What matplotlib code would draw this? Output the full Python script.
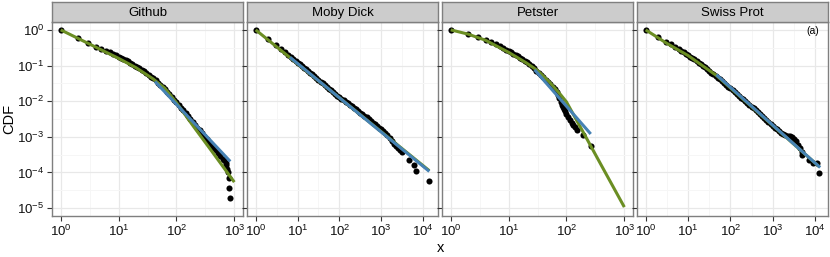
import numpy as np
import matplotlib
matplotlib.use("Agg")
import matplotlib.pyplot as plt
from matplotlib.ticker import FixedLocator, LogFormatterSciNotation, NullFormatter

plt.rcParams['font.family'] = ['Liberation Sans', 'DejaVu Sans']
plt.rcParams['mathtext.fontset'] = 'custom'
plt.rcParams['mathtext.rm'] = 'Liberation Sans'

# values, as log10 exponents
panels = ['Github', 'Moby Dick', 'Petster', 'Swiss Prot']

github_dots_lx = [0, .301, .477, .602, .699, .778, .845, .903, .954,
                  1.00, 1.04, 1.08, 1.12, 1.16, 1.20, 1.24, 1.28, 1.32, 1.36, 1.40,
                  1.44, 1.48, 1.52, 1.56, 1.60, 1.64, 1.68, 1.72, 1.76, 1.80, 1.84,
                  1.88, 1.92, 1.96, 2.00, 2.04, 2.08, 2.12, 2.16, 2.20, 2.24, 2.28,
                  2.32, 2.36, 2.40, 2.44, 2.48, 2.52, 2.56, 2.60, 2.64, 2.68, 2.72,
                  2.76, 2.80, 2.83, 2.85, 2.86, 2.88, 2.89, 2.90, 2.91, 2.93]
github_dots_ly = [0, -0.23, -0.37, -0.47, -0.53, -0.58, -0.63, -0.67, -0.71,
                  -0.76, -0.79, -0.82, -0.85, -0.88, -0.92, -0.96, -1.00, -1.04, -1.08, -1.12,
                  -1.16, -1.21, -1.26, -1.31, -1.36, -1.42, -1.48, -1.54, -1.60, -1.67, -1.74,
                  -1.81, -1.88, -1.96, -2.03, -2.10, -2.18, -2.26, -2.34, -2.42, -2.50, -2.58,
                  -2.66, -2.74, -2.82, -2.90, -2.98, -3.06, -3.14, -3.22, -3.30, -3.38, -3.46,
                  -3.54, -3.61, -3.66, -3.72, -3.80, -3.90, -4.00, -4.16, -4.44, -4.72]
github_green_lx = [0, 0.5, 1.0, 1.3, 1.6, 1.8, 2.0, 2.3, 2.6, 3.0]
github_green_ly = [0, -0.40, -0.80, -1.06, -1.38, -1.64, -2.04, -2.72, -3.38, -4.27]
github_blue_lx = [1.63, 2.93]
github_blue_ly = [-1.45, -3.69]

moby_dots_lx = [0, .301, .477, .602, .699, .778, .845, .903, .954,
                1.00, 1.05, 1.10, 1.15, 1.20, 1.25, 1.30, 1.35, 1.40, 1.45, 1.50,
                1.55, 1.60, 1.65, 1.70, 1.75, 1.80, 1.85, 1.90, 1.95, 2.00, 2.05,
                2.10, 2.15, 2.20, 2.25, 2.30, 2.35, 2.40, 2.45, 2.50, 2.55, 2.60,
                2.65, 2.70, 2.75, 2.80, 2.85, 2.90, 2.95, 3.00, 3.05, 3.10, 3.15,
                3.20, 3.25, 3.30, 3.35, 3.40, 3.45, 3.50, 3.66, 3.79, 3.82, 4.15]
moby_dots_ly = [0, -0.26, -0.42, -0.54, -0.62, -0.70, -0.76, -0.81, -0.86,
                -0.92, -0.97, -1.01, -1.06, -1.10, -1.15, -1.20, -1.25, -1.30, -1.35, -1.40,
                -1.45, -1.50, -1.55, -1.60, -1.65, -1.70, -1.75, -1.80, -1.85, -1.89, -1.93,
                -1.97, -2.01, -2.06, -2.10, -2.14, -2.19, -2.23, -2.27, -2.32, -2.36, -2.41,
                -2.45, -2.50, -2.55, -2.60, -2.64, -2.69, -2.74, -2.79, -2.84, -2.89, -2.95,
                -3.02, -3.12, -3.20, -3.26, -3.30, -3.36, -3.42, -3.64, -3.78, -3.95, -4.25]
moby_green_lx = [0, 0.82, 4.15]
moby_green_ly = [0, -0.78, -3.95]
moby_blue_lx = [0.82, 4.15]
moby_blue_ly = [-0.77, -3.97]

petster_dots_lx = [0, .301, .477, .602, .699, .778, .845, .903, .954,
                   1.00, 1.04, 1.08, 1.12, 1.16, 1.20, 1.24, 1.28, 1.32, 1.36, 1.40,
                   1.44, 1.48, 1.52, 1.56, 1.60, 1.64, 1.68, 1.72, 1.76, 1.80, 1.83,
                   1.86, 1.88, 1.90, 1.92, 1.94, 1.96, 1.98, 2.00, 2.03, 2.06, 2.09,
                   2.12, 2.15, 2.18, 2.29, 2.43]
petster_dots_ly = [0, -0.12, -0.21, -0.28, -0.35, -0.41, -0.46, -0.51, -0.56,
                   -0.60, -0.635, -0.67, -0.705, -0.74, -0.78, -0.82, -0.865, -0.91, -0.96, -1.02,
                   -1.08, -1.14, -1.20, -1.27, -1.33, -1.40, -1.46, -1.53, -1.60, -1.67, -1.74,
                   -1.82, -1.92, -2.02, -2.10, -2.16, -2.22, -2.28, -2.35, -2.44, -2.53, -2.60,
                   -2.66, -2.73, -2.80, -2.94, -3.26]
petster_green_lx = [0, 0.3, 0.6, 1.0, 1.3, 1.5, 1.7, 1.9, 2.0, 2.3, 2.6, 3.0]
petster_green_ly = [0, -0.12, -0.29, -0.63, -0.92, -1.14, -1.45, -1.82, -2.02, -2.90, -3.79, -4.97]
petster_blue_lx = [1.45, 2.42]
petster_blue_ly = [-1.12, -2.92]

swiss_dots_lx = [0, .301, .477, .602, .699, .778, .845, .903, .954,
                 1.00, 1.05, 1.10, 1.15, 1.20, 1.25, 1.30, 1.35, 1.40, 1.45, 1.50,
                 1.55, 1.60, 1.65, 1.70, 1.75, 1.80, 1.85, 1.90, 1.95, 2.00, 2.05,
                 2.10, 2.15, 2.20, 2.25, 2.30, 2.35, 2.40, 2.45, 2.50, 2.55, 2.60,
                 2.65, 2.70, 2.75, 2.80, 2.85, 2.90, 2.95, 3.00, 3.05, 3.10, 3.15,
                 3.20, 3.25, 3.30, 3.35, 3.40, 3.45, 3.50, 3.55, 3.60, 3.64, 3.68,
                 3.70, 3.85, 3.95, 4.04, 4.10]
swiss_dots_ly = [0, -0.21, -0.33, -0.41, -0.47, -0.53, -0.58, -0.63, -0.67,
                 -0.71, -0.75, -0.79, -0.83, -0.87, -0.92, -0.96, -1.01, -1.05, -1.10, -1.15,
                 -1.20, -1.25, -1.30, -1.34, -1.39, -1.44, -1.49, -1.54, -1.59, -1.64, -1.69,
                 -1.74, -1.79, -1.85, -1.90, -1.95, -2.00, -2.05, -2.10, -2.15, -2.20, -2.26,
                 -2.31, -2.36, -2.42, -2.47, -2.53, -2.58, -2.64, -2.69, -2.74, -2.78, -2.83,
                 -2.88, -2.92, -2.95, -2.97, -2.99, -3.01, -3.05, -3.13, -3.22, -3.32, -3.42,
                 -3.52, -3.66, -3.72, -3.74, -4.02]
swiss_green_lx = [0, 0.5, 1.0, 1.67, 4.1]
swiss_green_ly = [0, -0.38, -0.72, -1.28, -3.84]
swiss_blue_lx = [1.67, 4.12]
swiss_blue_ly = [-1.26, -3.86]

dots = [(github_dots_lx, github_dots_ly), (moby_dots_lx, moby_dots_ly),
        (petster_dots_lx, petster_dots_ly), (swiss_dots_lx, swiss_dots_ly)]
greens = [(github_green_lx, github_green_ly), (moby_green_lx, moby_green_ly),
          (petster_green_lx, petster_green_ly), (swiss_green_lx, swiss_green_ly)]
blues = [(github_blue_lx, github_blue_ly), (moby_blue_lx, moby_blue_ly),
         (petster_blue_lx, petster_blue_ly), (swiss_blue_lx, swiss_blue_ly)]
xmax_decade = [3, 4, 3, 4]
xlims = [(-0.15, 3.15), (-0.2075, 4.3575), (-0.15, 3.15), (-0.205, 4.305)]

W, H = 830, 257
fig = plt.figure(figsize=(W / 100, H / 100), dpi=100)

lefts = [52, 247, 442, 637]
pw, top, bottom = 191, 22, 216
strip_top = 2

for i, name in enumerate(panels):
    ax = fig.add_axes([lefts[i] / W, (H - bottom) / H, pw / W, (bottom - top) / H])
    ax.set_xscale('log')
    ax.set_yscale('log')
    ax.set_xlim(10 ** xlims[i][0], 10 ** xlims[i][1])
    ax.set_ylim(10 ** -5.22, 10 ** 0.22)

    xt = [10.0 ** k for k in range(0, xmax_decade[i] + 1)]
    ax.xaxis.set_major_locator(FixedLocator(xt))
    ax.xaxis.set_minor_locator(FixedLocator([10 ** (k + 0.5) for k in range(-1, xmax_decade[i] + 1)]))
    ax.yaxis.set_major_locator(FixedLocator([10.0 ** k for k in range(-5, 1)]))
    ax.yaxis.set_minor_locator(FixedLocator([10 ** (k + 0.5) for k in range(-6, 1)]))
    ax.xaxis.set_major_formatter(LogFormatterSciNotation())
    ax.xaxis.set_minor_formatter(NullFormatter())
    ax.yaxis.set_minor_formatter(NullFormatter())
    if i == 0:
        ax.yaxis.set_major_formatter(LogFormatterSciNotation())
    else:
        ax.yaxis.set_major_formatter(NullFormatter())
        ax.tick_params(axis='y', which='major', length=0)

    ax.grid(True, which='major', color='#E8E8E8', lw=0.9)
    ax.grid(True, which='minor', color='#F6F6F6', lw=0.7)
    ax.set_axisbelow(True)
    ax.tick_params(which='major', direction='out', length=3.5, width=0.8,
                   color='#333333', labelsize=9.5, pad=2, labelcolor='#111111')
    ax.tick_params(which='minor', length=0)
    for s in ax.spines.values():
        s.set_color('#7F7F7F')
        s.set_linewidth(1.0)

    dlx, dly = dots[i]
    ax.plot(10 ** np.array(dlx), 10 ** np.array(dly), 'o', color='black', ms=4.4, mew=0, zorder=3)
    glx, gly = greens[i]
    ax.plot(10 ** np.array(glx), 10 ** np.array(gly), color='#6B8E23', lw=2.2, zorder=4,
            solid_capstyle='butt')
    blx, bly = blues[i]
    ax.plot(10 ** np.array(blx), 10 ** np.array(bly), color='#4682B4', lw=2.2, zorder=5,
            solid_capstyle='butt')

    # facet strip
    sax = fig.add_axes([lefts[i] / W, (H - top) / H, pw / W, (top - strip_top) / H])
    sax.set_facecolor('#CCCCCC')
    sax.set_xticks([])
    sax.set_yticks([])
    for s in sax.spines.values():
        s.set_color('#7F7F7F')
        s.set_linewidth(1.0)
    sax.text(0.5, 0.45, name, ha='center', va='center', fontsize=9.5, transform=sax.transAxes)

    if i == 3:
        ax.text(0.92, 0.955, '(a)', ha='center', va='center', fontsize=7.5,
                transform=ax.transAxes)

fig.text(9 / W, 1 - 119 / H, 'CDF', rotation=90, ha='center', va='center', fontsize=10.5)
fig.text(441 / W, 1 - 248 / H, 'x', ha='center', va='center', fontsize=10.5)

fig.savefig('out.png', dpi=100)
